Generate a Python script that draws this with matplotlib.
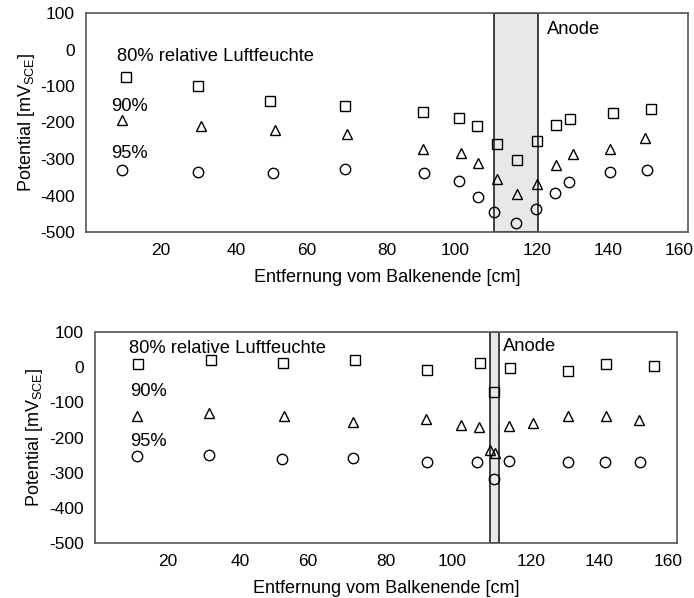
import matplotlib
matplotlib.use("Agg")
import matplotlib.pyplot as plt
from matplotlib.transforms import ScaledTranslation

plt.rcParams['font.family'] = ['Liberation Sans', 'DejaVu Sans']
plt.rcParams['axes.unicode_minus'] = False

# ---- Panel 1 data ----
t_x80 = [10.5, 29.8, 48.9, 68.8, 89.5, 99.1, 103.8, 109.2, 114.5, 119.8, 124.8, 128.6, 140.0, 150.1]
t_y80 = [-75, -100, -140, -155, -171, -188, -210, -260, -302, -252, -208, -191, -175, -162]
t_x90 = [9.5, 30.5, 50.2, 69.3, 89.7, 99.8, 104.3, 109.3, 114.5, 119.8, 124.8, 129.5, 139.4, 148.6]
t_y90 = [-193, -210, -220, -231, -273, -283, -310, -356, -396, -368, -317, -286, -273, -242]
t_x95 = [9.7, 29.8, 49.8, 68.8, 89.8, 99.2, 104.1, 108.5, 114.2, 119.6, 124.7, 128.4, 139.4, 149.0]
t_y95 = [-330, -335, -339, -328, -339, -359, -403, -444, -476, -437, -394, -362, -335, -330]
t_anode = (108.5, 120.0)

# ---- Panel 2 data ----
b_x80 = [11.9, 31.8, 51.7, 71.6, 91.3, 105.8, 109.6, 114.2, 130.1, 140.4, 153.6]
b_y80 = [8, 20, 13, 20, -8, 11, -72, -1, -11, 8, 2]
b_x90 = [11.6, 31.3, 51.9, 71.0, 91.1, 100.7, 105.5, 108.5, 110.1, 113.8, 120.4, 130.1, 140.4, 149.5]
b_y90 = [-138, -131, -138, -157, -148, -164, -170, -235, -244, -167, -159, -140, -138, -150]
b_x95 = [11.6, 31.3, 51.5, 71.0, 91.3, 105.1, 109.6, 113.8, 130.1, 140.2, 149.9]
b_y95 = [-252, -249, -261, -258, -271, -271, -318, -268, -271, -271, -269]
b_anode = (108.5, 111.0)

x_ticks = [20, 40, 60, 80, 100, 120, 140, 160]
y_ticks = [100, 0, -100, -200, -300, -400, -500]

fig = plt.figure(figsize=(6.94, 5.98), dpi=100)
ax1 = fig.add_axes([86/694, 1-232/598, (688-86)/694, (232-13)/598])
ax2 = fig.add_axes([95/694, 1-543/598, (677-95)/694, (543-332)/598])

FS = 12.5
FT = 13.2
mk = dict(linestyle='none', markerfacecolor='none', markeredgecolor='black',
          markeredgewidth=1.0, markersize=7.5, zorder=3)

# horizontal pixel nudges of x tick labels as seen in the reference
label_nudge = {60: -5, 100: -7, 140: -5, 160: -9}

def setup(ax, band, ylpad):
    ax.axvspan(band[0], band[1], facecolor='#e8e8e8', edgecolor='#222222', linewidth=1.2, zorder=1)
    ax.set_xlim(0, 160)
    ax.set_ylim(-500, 100)
    ax.set_xticks(x_ticks)
    ax.set_yticks(y_ticks)
    ax.tick_params(length=0, labelsize=FS, pad=8)
    for s in ax.spines.values():
        s.set_color('#555555')
        s.set_linewidth(1.2)
    ax.set_xlabel('Entfernung vom Balkenende [cm]', fontsize=13, labelpad=8)
    ax.set_ylabel(r'Potential [mV$_{\mathregular{SCE}}$]', fontsize=13, labelpad=ylpad)
    for tv, lab in zip(x_ticks, ax.get_xticklabels()):
        dx = label_nudge.get(tv, 0)
        if dx:
            lab.set_transform(lab.get_transform() + ScaledTranslation(dx / 100, 0, fig.dpi_scale_trans))

setup(ax1, t_anode, 2)
ax1.plot(t_x80, t_y80, marker='s', **mk)
ax1.plot(t_x90, t_y90, marker='^', **mk)
ax1.plot(t_x95, t_y95, marker='o', **mk)
ax1.text(8.2, -20, '80% relative Luftfeuchte', fontsize=FT, va='center', ha='left')
ax1.text(6.8, -157, '90%', fontsize=FT, va='center', ha='left')
ax1.text(6.8, -284, '95%', fontsize=FT, va='center', ha='left')
ax1.text(122.4, 55, 'Anode', fontsize=FT, va='center', ha='left')

setup(ax2, b_anode, 3)
ax2.plot(b_x80, b_y80, marker='s', **mk)
ax2.plot(b_x90, b_y90, marker='^', **mk)
ax2.plot(b_x95, b_y95, marker='o', **mk)
ax2.text(9.4, 53, '80% relative Luftfeuchte', fontsize=FT, va='center', ha='left')
ax2.text(9.6, -70, '90%', fontsize=FT, va='center', ha='left')
ax2.text(9.6, -211, '95%', fontsize=FT, va='center', ha='left')
ax2.text(112.2, 58, 'Anode', fontsize=FT, va='center', ha='left')

fig.savefig('out.png', dpi=100)
